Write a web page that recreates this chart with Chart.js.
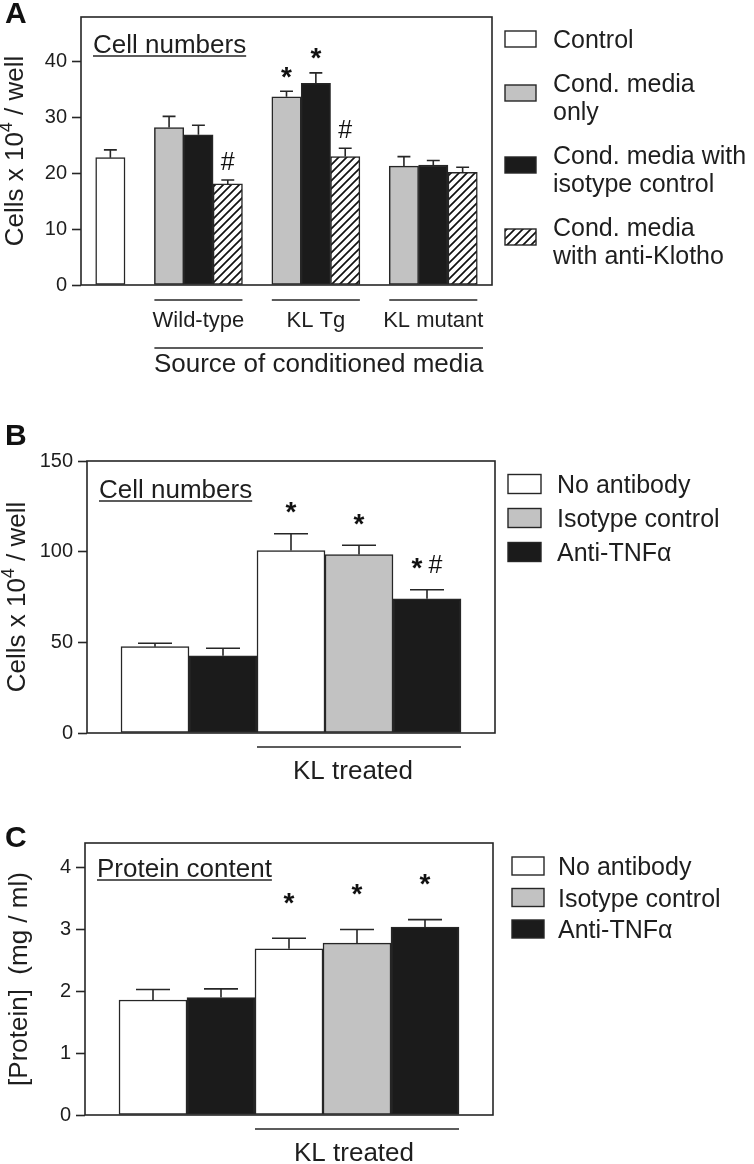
<!DOCTYPE html>
<html>
<head>
<meta charset="utf-8">
<script src="https://cdn.jsdelivr.net/npm/chart.js@4.4.1/dist/chart.umd.min.js"></script>
<style>
  html, body { margin: 0; padding: 0; background: #fff; }
  body { width: 754px; height: 1164px; position: relative; overflow: hidden; }
  canvas { position: absolute; left: 0; }
</style>
</head>
<body>
<canvas id="chartA" width="754" height="380" style="top:0px"></canvas>
<canvas id="chartB" width="754" height="420" style="top:380px"></canvas>
<canvas id="chartC" width="754" height="364" style="top:800px"></canvas>
<script>
// ---------- data ----------
// A: cell numbers, by source of conditioned media
const groupsA = ['', 'Wild-type', 'KL Tg', 'KL mutant'];
const seriesA = [['Control'], ['Cond. media', 'only'], ['Cond. media with', 'isotype control'], ['Cond. media', 'with anti-Klotho']];
const controlA = [22.8, null, null, null];
const condOnlyA = [null, 28.2, 33.7, 21.3];
const isotypeA = [null, 26.9, 36.1, 21.5];
const antiKlothoA = [null, 18.1, 23.0, 20.2];
const controlErrA = [1.4, null, null, null];
const condOnlyErrA = [null, 2.0, 1.0, 1.7];
const isotypeErrA = [null, 1.7, 1.9, 0.8];
const antiKlothoErrA = [null, 0.7, 1.5, 0.9];
const condOnlyMarkA = ['', '', '*', ''];
const isotypeMarkA = ['', '', '*', ''];
const antiKlothoMarkA = ['', '#', '#', ''];
const ticksA = [0, 10, 20, 30, 40];

// B: cell numbers, KL treated vs untreated
const groupsB = ['', 'KL treated'];
const seriesB = [['No antibody'], ['Isotype control'], ['Anti-TNFα']];
const noAbB = [47.6, 100.6];
const isoB = [null, 98.4];
const antiB = [42.6, 74.0];
const noAbErrB = [1.9, 9.3];
const isoErrB = [null, 5.1];
const antiErrB = [4.1, 5.0];
const noAbMarkB = ['', '*'];
const isoMarkB = ['', '*'];
const antiMarkB = ['', '* #'];
const ticksB = [0, 50, 100, 150];

// C: protein content
const groupsC = ['', 'KL treated'];
const seriesC = [['No antibody'], ['Isotype control'], ['Anti-TNFα']];
const noAbC = [1.86, 2.69];
const isoC = [null, 2.78];
const antiC = [1.90, 3.04];
const noAbErrC = [0.17, 0.17];
const isoErrC = [null, 0.22];
const antiErrC = [0.14, 0.12];
const noAbMarkC = ['', '*'];
const isoMarkC = ['', '*'];
const antiMarkC = ['', '*'];
const ticksC = [0, 1, 2, 3, 4];

// ---------- style ----------
const FONT = "'Liberation Sans', Arial, Helvetica, sans-serif";
Chart.defaults.font.family = FONT;
Chart.defaults.color = '#1e1e1e';
const INK = '#262626';
const WHITE = '#ffffff', GRAY = '#c2c2c2', BLACK = '#1b1b1b';

function makeHatch() {
  const c = document.createElement('canvas');
  c.width = 8; c.height = 8;
  const g = c.getContext('2d');
  g.fillStyle = '#fff';
  g.fillRect(0, 0, 8, 8);
  g.strokeStyle = '#111';
  g.lineWidth = 1.7;
  g.beginPath();
  g.moveTo(-2, 10); g.lineTo(10, -2);
  g.moveTo(-2, 2); g.lineTo(2, -2);
  g.moveTo(6, 10); g.lineTo(10, 6);
  g.stroke();
  return g.createPattern(c, 'repeat');
}
const HATCH = makeHatch();

function drawMark(ctx, mark, cx, cy) {
  const parts = mark.split(' ').map(t => ({
    t, font: t === '*' ? `bold 28px ${FONT}` : `25px ${FONT}`
  }));
  const gap = 6;
  let total = -gap;
  parts.forEach(p => { ctx.font = p.font; p.m = ctx.measureText(p.t); p.w = p.m.width; total += p.w + gap; });
  let x = cx - total / 2;
  ctx.fillStyle = '#111';
  ctx.textAlign = 'left';
  ctx.textBaseline = 'alphabetic';
  parts.forEach(p => {
    ctx.font = p.font;
    const asc = p.m.actualBoundingBoxAscent, desc = p.m.actualBoundingBoxDescent;
    ctx.fillText(p.t, x, cy + (asc - desc) / 2);
    x += p.w + gap;
  });
}

// y title drawn by hand so the exponent can be a real raised digit
function drawYTitle(ctx, parts, cx, cy) {
  ctx.save();
  ctx.translate(cx, cy);
  ctx.rotate(-Math.PI / 2);
  ctx.textAlign = 'left';
  ctx.textBaseline = 'middle';
  ctx.fillStyle = '#1e1e1e';
  let total = 0;
  parts.forEach(p => { ctx.font = `${p.sup ? 18 : 26}px ${FONT}`; p.w = ctx.measureText(p.t).width; total += p.w; });
  let x = -total / 2;
  parts.forEach(p => {
    ctx.font = `${p.sup ? 18 : 26}px ${FONT}`;
    ctx.fillText(p.t, x, p.sup ? -9 : 0);
    x += p.w;
  });
  ctx.restore();
}

function panelPlugin(cfg) {
  return {
    id: 'panelDecor',
    afterDatasetsDraw(chart) {
      const ctx = chart.ctx;
      const a = chart.chartArea;
      const xs = chart.scales.x, ys = chart.scales.y;
      ctx.save();
      ctx.strokeStyle = INK;
      ctx.lineWidth = 1.6;

      // error bars + significance marks
      chart.data.datasets.forEach((ds, di) => {
        chart.getDatasetMeta(di).data.forEach((bar, i) => {
          const pt = ds.data[i];
          const top = ys.getPixelForValue(pt.y + pt.err);
          const half = bar.width * cfg.capRatio / 2;
          ctx.beginPath();
          ctx.moveTo(bar.x, bar.y); ctx.lineTo(bar.x, top);
          ctx.moveTo(bar.x - half, top); ctx.lineTo(bar.x + half, top);
          ctx.stroke();
          if (pt.mark) drawMark(ctx, pt.mark, bar.x, top - cfg.markGap);
        });
      });

      // frame
      ctx.strokeStyle = INK;
      ctx.lineWidth = 1.6;
      ctx.strokeRect(a.left, a.top, a.right - a.left, a.bottom - a.top);

      // y title
      drawYTitle(ctx, cfg.yTitle, cfg.titleX, (a.top + a.bottom) / 2);

      // group lines and labels under the axis
      ctx.fillStyle = '#1e1e1e';
      ctx.textAlign = 'center';
      ctx.textBaseline = 'alphabetic';
      let firstX = null;
      cfg.groups.forEach((g, gi) => {
        if (!g) return;
        const p = cfg.positions[gi];
        const x0 = xs.getPixelForValue(Math.min(...p) - 0.5);
        const x1 = xs.getPixelForValue(Math.max(...p) + 0.5);
        if (firstX === null) firstX = x0;
        const ly = a.bottom + cfg.groupLine;
        ctx.beginPath(); ctx.moveTo(x0, ly); ctx.lineTo(x1, ly); ctx.stroke();
        ctx.font = `${cfg.groupFont}px ${FONT}`;
        ctx.fillText(g, (x0 + x1) / 2 + cfg.groupShift, ly + cfg.groupText);
      });
      if (cfg.source) {
        const ly = a.bottom + cfg.source.line;
        const x1 = a.right - 9;
        ctx.beginPath(); ctx.moveTo(firstX, ly); ctx.lineTo(x1, ly); ctx.stroke();
        ctx.font = `26px ${FONT}`;
        ctx.fillText(cfg.source.text, (firstX + x1) / 2, ly + cfg.source.text_dy);
      }

      // inset title, underlined
      ctx.textAlign = 'left';
      ctx.font = `26px ${FONT}`;
      const ix = a.left + 12, iy = a.top + cfg.inset.dy;
      ctx.fillText(cfg.inset.text, ix, iy);
      const iw = ctx.measureText(cfg.inset.text).width;
      ctx.lineWidth = 1.5;
      ctx.beginPath(); ctx.moveTo(ix, iy + 3); ctx.lineTo(ix + iw, iy + 3); ctx.stroke();

      // panel letter
      ctx.font = `bold 30px ${FONT}`;
      ctx.fillStyle = '#111';
      ctx.fillText(cfg.letter, 5, cfg.letterY);

      // legend
      const L = cfg.legend;
      let base = L.top;
      ctx.font = `25px ${FONT}`;
      ctx.lineWidth = 1.4;
      cfg.legendLines.forEach((lines, s) => {
        const n = lines.length;
        const cy = base - 9 + (n - 1) * (L.lh / 2 - 4);
        ctx.fillStyle = cfg.fills[s];
        ctx.fillRect(L.sx, cy - L.sh / 2, L.sw, L.sh);
        ctx.strokeRect(L.sx, cy - L.sh / 2, L.sw, L.sh);
        ctx.fillStyle = '#1e1e1e';
        lines.forEach((t, k) => ctx.fillText(t, L.tx, base + k * L.lh));
        base += n * L.lh + L.gap;
      });
      ctx.restore();
    }
  };
}

function buildPanel(id, cfg) {
  // place bars in consecutive slots, group by group
  const positions = cfg.groups.map(() => []);
  const slot = cfg.values.map(() => []);
  let p = 1;
  cfg.groups.forEach((g, gi) => {
    cfg.values.forEach((v, s) => {
      if (v[gi] != null) { slot[s][gi] = p; positions[gi].push(p); p++; }
    });
    p += cfg.gap;
  });
  cfg.positions = positions;
  const xMax = p - cfg.gap;

  const datasets = cfg.values.map((v, s) => ({
    label: cfg.legendLines[s].join(' '),
    data: cfg.groups.map((g, gi) => v[gi] == null ? null : {
      x: slot[s][gi], y: v[gi], err: cfg.errors[s][gi], mark: cfg.marks[s][gi]
    }).filter(d => d),
    backgroundColor: cfg.fills[s],
    borderColor: INK,
    borderWidth: 1.5,
    borderSkipped: false,
    grouped: false,
    barPercentage: 1,
    categoryPercentage: 1
  }));

  new Chart(document.getElementById(id), {
    type: 'bar',
    data: { datasets },
    options: {
      responsive: false,
      animation: false,
      events: [],
      devicePixelRatio: 1,
      layout: { padding: cfg.padding },
      plugins: { legend: { display: false }, tooltip: { enabled: false } },
      scales: {
        x: {
          type: 'linear', min: 0, max: xMax, offset: false, display: false,
          ticks: { stepSize: 1 }
        },
        y: {
          min: 0, max: cfg.yMax,
          afterBuildTicks: (scale) => { scale.ticks = cfg.ticks.map(v => ({ value: v })); },
          afterFit: (scale) => { scale.width = cfg.yWidth; },
          border: { display: false },
          grid: { drawOnChartArea: false, drawTicks: true, tickLength: 9, tickColor: INK, tickWidth: 1.6 },
          ticks: { font: { size: 20 }, color: '#1e1e1e', padding: 5 }
        }
      }
    },
    plugins: [panelPlugin(cfg)]
  });
}

const cellsTitle = [{ t: 'Cells x 10' }, { t: '4', sup: true }, { t: ' / well' }];

document.addEventListener('DOMContentLoaded', function() {
  buildPanel('chartA', {
    groups: groupsA, legendLines: seriesA,
    values: [controlA, condOnlyA, isotypeA, antiKlothoA],
    errors: [controlErrA, condOnlyErrA, isotypeErrA, antiKlothoErrA],
    marks: [['', '', '', ''], condOnlyMarkA, isotypeMarkA, antiKlothoMarkA],
    fills: [WHITE, GRAY, BLACK, HATCH],
    ticks: ticksA, yMax: 48, gap: 1,
    yTitle: cellsTitle, titleX: 16, yWidth: 81,
    padding: { top: 12, right: 262, bottom: 95, left: 0 },
    capRatio: 0.44, markGap: 19,
    groupLine: 15, groupText: 27, groupFont: 22, groupShift: 0,
    source: { text: 'Source of conditioned media', line: 63, text_dy: 24 },
    inset: { text: 'Cell numbers', dy: 36 },
    letter: 'A', letterY: 23,
    legend: { sx: 505, sw: 31, sh: 16, tx: 553, top: 48, lh: 28, gap: 16 }
  });
  buildPanel('chartB', {
    groups: groupsB, legendLines: seriesB,
    values: [noAbB, isoB, antiB],
    errors: [noAbErrB, isoErrB, antiErrB],
    marks: [noAbMarkB, isoMarkB, antiMarkB],
    fills: [WHITE, GRAY, BLACK],
    ticks: ticksB, yMax: 150, gap: 0,
    yTitle: cellsTitle, titleX: 18, yWidth: 87,
    padding: { top: 81, right: 259, bottom: 67, left: 0 },
    capRatio: 0.5, markGap: 26,
    groupLine: 14, groupText: 32, groupFont: 26, groupShift: -6,
    inset: { text: 'Cell numbers', dy: 37 },
    letter: 'B', letterY: 65,
    legend: { sx: 508, sw: 33, sh: 19, tx: 557, top: 113, lh: 28, gap: 6 }
  });
  buildPanel('chartC', {
    groups: groupsC, legendLines: seriesC,
    values: [noAbC, isoC, antiC],
    errors: [noAbErrC, isoErrC, antiErrC],
    marks: [noAbMarkC, isoMarkC, antiMarkC],
    fills: [WHITE, GRAY, BLACK],
    ticks: ticksC, yMax: 4.4, gap: 0,
    yTitle: [{ t: '[Protein]  (mg / ml)' }], titleX: 20, yWidth: 85,
    padding: { top: 43, right: 261, bottom: 49, left: 0 },
    capRatio: 0.5, markGap: 40,
    groupLine: 14, groupText: 32, groupFont: 26, groupShift: -3,
    inset: { text: 'Protein content', dy: 34 },
    letter: 'C', letterY: 47,
    legend: { sx: 512, sw: 32, sh: 18, tx: 558, top: 75, lh: 28, gap: 3.5 }
  });
});
</script>
</body>
</html>
